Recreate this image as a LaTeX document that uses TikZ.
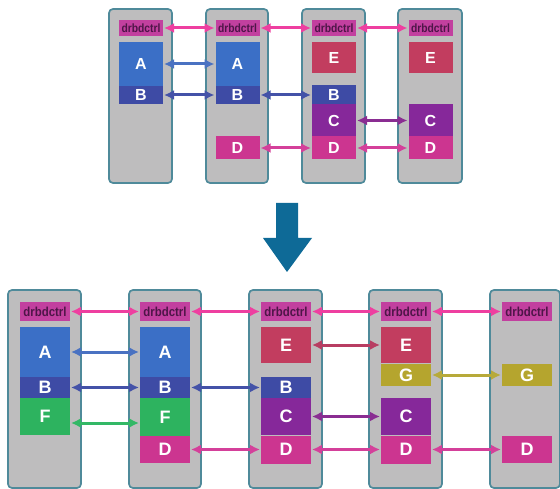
\documentclass[tikz,border=0pt]{standalone}
\usepackage{fontspec}
\setmainfont{Liberation Sans}
\usetikzlibrary{arrows.meta}
\definecolor{panelfill}{HTML}{BEBDBE}
\definecolor{paneldraw}{HTML}{4F8A9A}
\definecolor{drbfill}{HTML}{C2409F}
\definecolor{drbtext}{HTML}{4E1548}
\definecolor{cA}{HTML}{3B6FC6}
\definecolor{cB}{HTML}{3E4BA5}
\definecolor{cF}{HTML}{2DB35F}
\definecolor{cD}{HTML}{CC3590}
\definecolor{cE}{HTML}{C23D5F}
\definecolor{cC}{HTML}{86289A}
\definecolor{cG}{HTML}{B5A52E}
\definecolor{aDrb}{HTML}{EE3FA0}
\definecolor{aA}{HTML}{4A72C2}
\definecolor{aB}{HTML}{4452A8}
\definecolor{aF}{HTML}{33B866}
\definecolor{aD}{HTML}{D4409A}
\definecolor{aE}{HTML}{B83D62}
\definecolor{aC}{HTML}{8A2D92}
\definecolor{aG}{HTML}{B7AA3A}
\definecolor{bigarrow}{HTML}{0E6A97}
\tikzset{
  panel/.style={draw=paneldraw, fill=panelfill, line width=1.7pt, rounded corners=4pt, inner sep=0pt, outer sep=0pt},
  blk/.style={inner sep=0pt, outer sep=0pt, text=white, font=\bfseries\fontsize{16}{16}\selectfont},
  blkb/.style={blk, font=\bfseries\fontsize{18}{18}\selectfont},
  drbs/.style={inner sep=0pt, outer sep=0pt, fill=drbfill, text=drbtext, minimum width=44pt, minimum height=16pt},
  drbb/.style={inner sep=0pt, outer sep=0pt, fill=drbfill, text=drbtext, minimum width=50pt, minimum height=19pt},
  link/.style={line width=3pt, {Latex[length=10pt,width=10pt]}-{Latex[length=10pt,width=10pt]}, shorten <=1pt, shorten >=1pt}
}
\newcommand{\drbtxt}{\bfseries\fontsize{12}{12}\selectfont\scalebox{0.86}[1]{drbdctrl}}
\newcommand{\drbtxtb}{\bfseries\fontsize{13}{13}\selectfont\scalebox{0.88}[1]{drbdctrl}}
\begin{document}
\begin{tikzpicture}[x=1pt,y=-1pt]
\useasboundingbox (0,0) rectangle (560,489);
% ---------- top row panels ----------
\node[panel, minimum width=63pt, minimum height=174pt] (T1) at (140.5,96) {};
\node[panel, minimum width=62pt, minimum height=174pt] (T2) at (237,96) {};
\node[panel, minimum width=63pt, minimum height=174pt] (T3) at (333.5,96) {};
\node[panel, minimum width=64pt, minimum height=174pt] (T4) at (430,96) {};
% top boxes
\node[drbs] (Td1) at (141,28) {\drbtxt};
\node[drbs] (Td2) at (237.5,28) {\drbtxt};
\node[drbs] (Td3) at (334,28) {\drbtxt};
\node[drbs] (Td4) at (430.5,28) {\drbtxt};
\node[blk, fill=cA, minimum width=44pt, minimum height=44pt] (TA1) at (141,64) {A};
\node[blk, fill=cB, minimum width=44pt, minimum height=18pt] (TB1) at (141,95) {B};
\node[blk, fill=cA, minimum width=44pt, minimum height=44pt] (TA2) at (237.5,64) {A};
\node[blk, fill=cB, minimum width=44pt, minimum height=18pt] (TB2) at (237.5,95) {B};
\node[blk, fill=cD, minimum width=44pt, minimum height=23pt] (TD2) at (237.5,148) {D};
\node[blk, fill=cE, minimum width=44pt, minimum height=31pt] (TE3) at (334,57.5) {E};
\node[blk, fill=cB, minimum width=44pt, minimum height=19pt] (TB3) at (334,95) {B};
\node[blk, fill=cC, minimum width=44pt, minimum height=32pt] (TC3) at (334,120.5) {C};
\node[blk, fill=cD, minimum width=44pt, minimum height=23pt] (TD3) at (334,148) {D};
\node[blk, fill=cE, minimum width=44pt, minimum height=31pt] (TE4) at (430.5,57.5) {E};
\node[blk, fill=cC, minimum width=44pt, minimum height=32pt] (TC4) at (430.5,120.5) {C};
\node[blk, fill=cD, minimum width=44pt, minimum height=23pt] (TD4) at (430.5,148) {D};
% top arrows
\draw[link, aDrb] (Td1.east) -- (Td2.west);
\draw[link, aDrb] (Td2.east) -- (Td3.west);
\draw[link, aDrb] (Td3.east) -- (Td4.west);
\draw[link, aA] (TA1.east) -- (TA2.west);
\draw[link, aB] (TB1.east) -- (TB2.west);
\draw[link, aB] (TB2.east) -- (TB3.west);
\draw[link, aD] (TD2.east) -- (TD3.west);
\draw[link, aD] (TD3.east) -- (TD4.west);
\draw[link, aC] (TC3.east) -- (TC4.west);
% ---------- big arrow ----------
\fill[bigarrow] (276,203) -- (298,203) -- (298,238) -- (312,238) -- (287,272) -- (263,238) -- (276,238) -- cycle;
% ---------- bottom row panels ----------
\node[panel, minimum width=73pt, minimum height=198pt] (B1) at (44.5,389) {};
\node[panel, minimum width=72pt, minimum height=198pt] (B2) at (165,389) {};
\node[panel, minimum width=73pt, minimum height=198pt] (B3) at (285.5,389) {};
\node[panel, minimum width=73pt, minimum height=198pt] (B4) at (405.5,389) {};
\node[panel, minimum width=70pt, minimum height=198pt] (B5) at (525,389) {};
% bottom boxes
\node[drbb] (Bd1) at (45,311.5) {\drbtxtb};
\node[drbb] (Bd2) at (165,311.5) {\drbtxtb};
\node[drbb] (Bd3) at (286,311.5) {\drbtxtb};
\node[drbb] (Bd4) at (406,311.5) {\drbtxtb};
\node[drbb] (Bd5) at (527,311.5) {\drbtxtb};
\node[blkb, fill=cA, minimum width=50pt, minimum height=50pt] (BA1) at (45,352) {A};
\node[blkb, fill=cB, minimum width=50pt, minimum height=21pt] (BB1) at (45,387.5) {B};
\node[blkb, fill=cF, minimum width=50pt, minimum height=37pt] (BF1) at (45,416.5) {F};
\node[blkb, fill=cA, minimum width=50pt, minimum height=50pt] (BA2) at (165,352) {A};
\node[blkb, fill=cB, minimum width=50pt, minimum height=21pt] (BB2) at (165,387.5) {B};
\node[blkb, fill=cF, minimum width=50pt, minimum height=38pt] (BF2) at (165,417) {F};
\node[blkb, fill=cD, minimum width=50pt, minimum height=27pt] (BD2) at (165,449.5) {D};
\node[blkb, fill=cE, minimum width=50pt, minimum height=36pt] (BE3) at (286,345) {E};
\node[blkb, fill=cB, minimum width=50pt, minimum height=21pt] (BB3) at (286,387.5) {B};
\node[blkb, fill=cC, minimum width=50pt, minimum height=37pt] (BC3) at (286,416.5) {C};
\node[blkb, fill=cD, minimum width=50pt, minimum height=28pt] (BD3) at (286,449.5) {D};
\node[blkb, fill=cE, minimum width=50pt, minimum height=36pt] (BE4) at (406,345) {E};
\node[blkb, fill=cG, minimum width=50pt, minimum height=22pt] (BG4) at (406,375) {G};
\node[blkb, fill=cC, minimum width=50pt, minimum height=37pt] (BC4) at (406,416.5) {C};
\node[blkb, fill=cD, minimum width=50pt, minimum height=28pt] (BD4) at (406,449.5) {D};
\node[blkb, fill=cG, minimum width=50pt, minimum height=22pt] (BG5) at (527,375) {G};
\node[blkb, fill=cD, minimum width=50pt, minimum height=27pt] (BD5) at (527,449.5) {D};
% bottom arrows
\draw[link, aDrb] (Bd1.east) -- (Bd2.west);
\draw[link, aDrb] (Bd2.east) -- (Bd3.west);
\draw[link, aDrb] (Bd3.east) -- (Bd4.west);
\draw[link, aDrb] (Bd4.east) -- (Bd5.west);
\draw[link, aA] (BA1.east) -- (BA2.west);
\draw[link, aB] (BB1.east) -- (BB2.west);
\draw[link, aB] (BB2.east) -- (BB3.west);
\draw[link, aF] ([yshift=-6.5pt]BF1.east) -- ([yshift=-6.5pt]BF1.east -| BF2.west);
\draw[link, aD] (BD2.east) -- (BD3.west);
\draw[link, aD] (BD3.east) -- (BD4.west);
\draw[link, aD] (BD4.east) -- (BD5.west);
\draw[link, aE] (BE3.east) -- (BE4.west);
\draw[link, aC] (BC3.east) -- (BC4.west);
\draw[link, aG] (BG4.east) -- (BG5.west);
\end{tikzpicture}
\end{document}
